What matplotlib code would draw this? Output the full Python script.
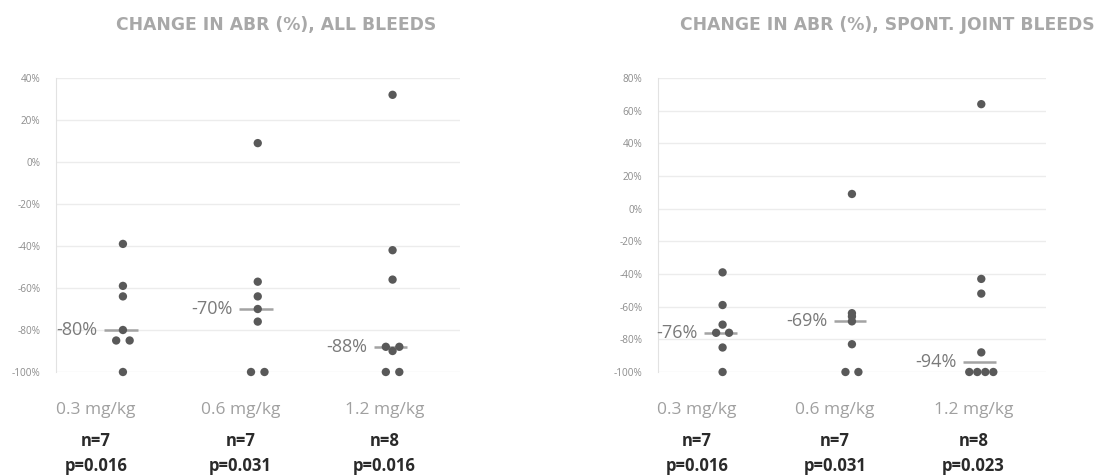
"""
Dot plots of the change in annualised bleeding rate (ABR) per dose cohort,
with the cohort median marked and labelled.
"""

import numpy as np
import matplotlib
matplotlib.use("Agg")
import matplotlib.pyplot as plt
import matplotlib.ticker as mticker

# Dose cohorts
DOSES = ["0.3 mg/kg", "0.6 mg/kg", "1.2 mg/kg"]

# Change in ABR (%), all bleeds
ALL_BLEEDS_03 = [-39, -59, -64, -80, -85, -85, -100]
ALL_BLEEDS_06 = [9, -57, -64, -70, -76, -100, -100]
ALL_BLEEDS_12 = [32, -42, -56, -88, -90, -88, -100, -100]
ALL_N = ["n=7", "n=7", "n=8"]
ALL_P = ["p=0.016", "p=0.031", "p=0.016"]

# Change in ABR (%), spontaneous joint bleeds
JOINT_03 = [-39, -59, -71, -76, -76, -85, -100]
JOINT_06 = [9, -64, -66, -69, -83, -100, -100]
JOINT_12 = [64, -43, -52, -88, -100, -100, -100, -100]
JOINT_N = ["n=7", "n=7", "n=8"]
JOINT_P = ["p=0.016", "p=0.031", "p=0.023"]

DOT_COLOR = "#595959"
MEDIAN_COLOR = "#a3a3a3"
GRID_COLOR = "#ececec"
SPINE_COLOR = "#e2e2e2"
TICK_COLOR = "#8c8c8c"
LABEL_COLOR = "#7a7a7a"
DOSE_COLOR = "#a0a0a0"
TITLE_COLOR = "#a8a8a8"

FONT = ["Open Sans", "DejaVu Sans"]

# x positions of the text rows under each panel (data units)
TEXT_X = [-0.2, 0.87, 1.94]


def spread(n):
    """Side-by-side offsets for points sharing the same value."""
    if n == 1:
        return [0.0]
    step = 0.1 if n == 2 else 0.062
    return list((np.arange(n) - (n - 1) / 2) * step)


def swarm_offsets(values):
    offsets = [0.0] * len(values)
    for v in set(values):
        idx = [i for i, x in enumerate(values) if x == v]
        for i, off in zip(idx, spread(len(idx))):
            offsets[i] = off
    return offsets


def draw_panel(ax, groups, title, title_x, ylim, n_labels, p_labels):
    ax.set_xlim(-0.5, 2.5)
    ax.set_ylim(*ylim)
    ax.set_yticks(np.arange(ylim[0], ylim[1] + 1, 20))
    ax.yaxis.set_major_formatter(mticker.FuncFormatter(lambda v, _: f"{v:.0f}%"))
    ax.tick_params(axis="y", length=0, pad=11, labelsize=7.2, labelcolor=TICK_COLOR)
    ax.set_xticks([])
    for lbl in ax.get_yticklabels():
        lbl.set_family(FONT)

    ax.grid(axis="y", color=GRID_COLOR, linewidth=1)
    ax.set_axisbelow(True)
    for side in ["top", "right", "bottom"]:
        ax.spines[side].set_visible(False)
    ax.spines["left"].set_color(SPINE_COLOR)

    for i, vals in enumerate(groups):
        xs = [i + off for off in swarm_offsets(vals)]
        ax.scatter(xs, vals, s=36, color=DOT_COLOR, edgecolors="none",
                   zorder=3, clip_on=False)
        med = float(np.median(vals))
        ax.plot([i - 0.14, i + 0.11], [med, med], color=MEDIAN_COLOR,
                linewidth=1.8, zorder=2, solid_capstyle="butt")
        ax.text(i - 0.19, med, f"{med:.0f}%", ha="right", va="center",
                fontsize=13, color=LABEL_COLOR, family=FONT)

    trans = ax.get_xaxis_transform()
    for x, dose, n, p in zip(TEXT_X, DOSES, n_labels, p_labels):
        ax.text(x, -0.13, dose, transform=trans, ha="center", va="center",
                fontsize=12.5, color=DOSE_COLOR, family=FONT)
        ax.text(x, -0.235, n, transform=trans, ha="center", va="center",
                fontsize=12, fontweight="bold", color="#2a2a2a", family=FONT)
        ax.text(x, -0.32, p, transform=trans, ha="center", va="center",
                fontsize=12, fontweight="bold", color="#2a2a2a", family=FONT)

    ax.text(title_x, 1.18, title, transform=ax.transAxes, ha="center",
            va="center", fontsize=12.3, fontweight="bold",
            color=TITLE_COLOR, family="DejaVu Sans")


def main():
    fig = plt.figure(figsize=(11.17, 4.76), dpi=100, facecolor="white")
    ax_all = fig.add_axes([0.0497, 0.2185, 0.3621, 0.6176])
    ax_joint = fig.add_axes([0.589, 0.2185, 0.3474, 0.6176])

    draw_panel(ax_all, [ALL_BLEEDS_03, ALL_BLEEDS_06, ALL_BLEEDS_12],
               "CHANGE IN ABR (%), ALL BLEEDS", 0.545, (-100, 40),
               ALL_N, ALL_P)
    draw_panel(ax_joint, [JOINT_03, JOINT_06, JOINT_12],
               "CHANGE IN ABR (%), SPONT. JOINT BLEEDS", 0.59, (-100, 80),
               JOINT_N, JOINT_P)

    fig.savefig("out.png", dpi=100, facecolor="white")
    plt.close(fig)


if __name__ == "__main__":
    main()
